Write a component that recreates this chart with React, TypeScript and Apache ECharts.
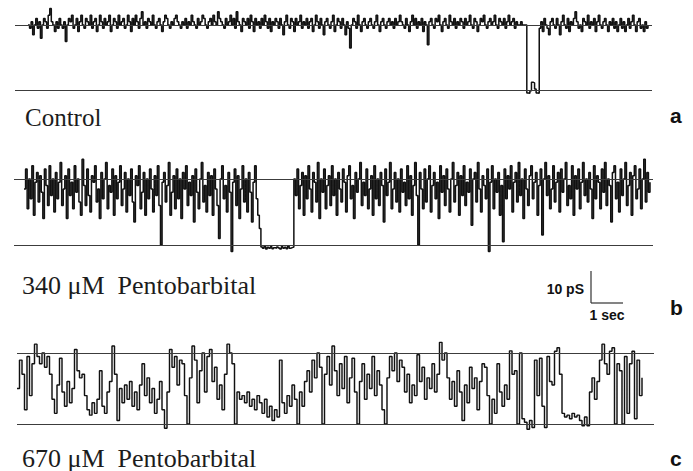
import React, { useEffect, useRef } from "react";
import * as echarts from "echarts";

// Current traces (pS); 0 = closed level, 20 = open level
const controlTrace = [
  20,19,21,17,20,22,19,21,16,20,22,21,19,23,25,21,20,18,21,19,
  22,20,19,21,15,20,22,21,23,19,20,22,18,21,23,20,19,22,21,20,
  23,19,21,22,18,20,23,21,19,22,20,21,23,18,20,22,21,19,23,20,
  21,22,19,20,23,21,18,22,20,23,21,19,22,24,20,21,19,22,21,20,
  23,20,19,21,22,20,18,21,23,22,20,19,21,20,22,23,21,20,19,21,
  20,22,19,21,20,23,21,20,19,22,20,21,23,22,20,19,21,22,20,23,
  21,20,24,22,21,20,19,22,20,21,23,20,22,19,24,21,20,18,22,21,
  20,22,19,23,21,18,22,20,21,19,22,20,23,21,19,22,18,21,20,22,
  21,19,22,20,17,21,23,20,19,22,21,18,22,20,21,23,19,21,20,22,
  19,21,22,18,20,23,21,19,22,20,17,21,22,20,19,21,23,18,20,22,
  21,19,22,20,17,21,19,13,20,22,21,19,23,20,18,21,22,20,19,21,
  22,20,19,21,23,20,18,21,22,20,19,21,22,20,21,19,22,20,21,23,
  21,20,19,22,20,18,21,23,20,22,19,21,20,22,18,21,20,14,21,22,
  20,19,22,21,23,20,18,21,22,20,19,23,21,20,22,19,21,20,22,21,
  19,22,20,21,23,20,19,22,21,18,20,22,21,23,20,19,21,22,20,21,
  23,20,19,22,21,20,22,19,21,23,20,21,22,19,21,20,20,21,20,20,
  20,-0.7,-0.8,0,2.6,2.4,0.5,-0.7,-0.8,19,21,18,22,20,19,17,21,22,20,19,
  22,20,17,21,23,20,19,22,18,21,20,22,24,21,19,20,18,22,21,20,
  23,19,21,20,22,18,21,23,20,19,21,22,20,18,21,20,22,19,21,18,
  20,22,19,21,18,20,22,19,21,23,20,18,21,22,19,20,18,21,19,20,
];

const pb340Trace = [
  17,23,11,20,14,24,9,19,22,13,21,16,8,23,18,12,24,15,20,10,
  22,14,19,25,12,17,21,8,23,15,19,11,24,16,20,13,9,26,18,12,
  23,15,10,21,19,24,13,17,8,22,14,20,25,11,18,16,23,9,21,14,
  19,24,12,17,22,10,20,15,23,13,7,21,18,24,11,16,22,9,20,14,
  23,17,10,21,15,24,12,0,19,22,13,18,25,9,16,21,11,23,14,20,
  8,22,17,24,12,19,15,21,7,23,16,11,20,25,13,18,10,22,15,21,
  9,23,17,12,2,20,24,14,18,10,22,16,-2,19,23,12,21,8,17,24,
  13,20,10,22,16,7,19,24,14,9,5,
  -0.6,-1,-0.4,-1.2,-0.7,-1,-0.5,-1.1,-0.8,-1,
  -0.6,-0.9,-1.2,-0.5,-1,-0.7,-1.1,-0.4,-1,-0.8,-0.6,
  20,15,23,11,18,22,9,21,
  14,24,17,10,22,19,13,25,8,20,16,23,11,18,21,12,24,15,20,9,
  22,17,13,23,19,10,21,24,14,18,8,22,16,20,25,12,19,15,23,11,
  17,21,9,24,14,20,12,22,18,7,23,15,19,25,11,17,22,13,20,10,
  23,16,19,12,24,14,21,9,18,25,15,0,22,17,11,23,13,20,24,10,
  18,22,14,19,8,24,16,21,12,23,17,10,20,25,13,18,22,9,21,15,
  24,12,19,16,23,6,20,22,13,25,17,10,21,18,14,23,-2,19,24,11,
  20,16,22,9,18,1,23,14,21,17,24,10,19,22,13,25,15,20,8,23,
  17,12,21,24,14,19,22,9,18,23,3,20,25,15,21,11,17,24,13,19,
  22,10,23,16,20,25,12,18,14,24,9,21,17,23,11,19,25,15,20,13,
  22,17,8,24,14,21,19,11,23,16,25,12,20,18,7,22,24,14,19,10,
  23,15,20,25,12,18,22,9,21,24,14,17,23,11,20,26,13,22,16,19,
];

const pb670Trace = [
  10,18,14,4,19,8,17,22.5,19,17,
  20,16,19,14,7,3,11,18.5,9,5,
  12,6,10,21,15,13,14,8,4,2.5,
  6,3,7,15,5,3,9,12,22,14,
  1,10,6,11,7,12,5,9,4,11,
  17,8,13,6,10,3,7,12,4,-1.2,
  9,21,16,19,11,18,17,8,0,13,
  22,18,6,15,20,9,19,21,12,16,
  7,11,4,14,22.5,20,17,0,9,7,
  8,6,9,5,7,4,8,6,3,7,
  2,5,1,4,2,18,6,3,8,5,
  11,7,0,9,5,12,15,9,18,13,
  20,16,0,14,19,11,22,15,8,17,
  10,19,6,13,18.5,9,0,12,17,7,
  14,10,19,8,15,11,4,0,13,19,
  15,20,12,18,16,9,14,6,11,8,
  19.5,12,16,7,13,10,17,9,14,23,
  18,20,13,7,12,5,15,9,1,11,
  6,16,10,13,4,12,17,16,8,0,
  7,3,17,9,5,11,7,20.6,14,15,
  0,20,1.5,0.5,-1.5,1,-1,18,8,18.5,
  5,-1,19,12,11,20.5,21.5,14,3,2,
  2.5,1.5,3,2,2.5,1,-0.5,2,-0.5,9,
  13,7,12,18,22.5,17,14,20.5,21.5,0,
  17,15,0,19,3,17,20.5,1.5,18,8,13,
];

const referenceLevels = [0, 20];
const panelTitles = ["Control", "340 μM  Pentobarbital", "670 μM  Pentobarbital"];
const panelLetters = ["a", "b", "c"];
const ampScaleLabel = "10 pS";
const timeScaleLabel = "1 sec";

const SERIF = '"Liberation Serif", "Times New Roman", serif';
const SANS = '"Liberation Sans", Arial, sans-serif';

export default function App() {
  const ref = useRef<HTMLDivElement>(null);

  useEffect(() => {
    if (!ref.current) return;
    const chart = echarts.init(ref.current, null, { renderer: "svg" });

    const panels = [
      { data: controlTrace, grid: { left: 15, top: 5.3, width: 637, height: 98.55 }, x: [-8.366, 401.57], y: [-4, 26], lw: 1.5, titleY: 117, titleSize: 25, letterY: 126 },
      { data: pb340Trace, grid: { left: 14, top: 152.6, width: 639, height: 105.6 }, x: [-6.374, 400.91], y: [-4, 28], lw: 1.5, titleY: 285, titleSize: 26, letterY: 318 },
      { data: pb670Trace, grid: { left: 17, top: 331.7, width: 637, height: 106.5 }, x: [0, 254.8], y: [-4, 26], lw: 1.45, titleY: 458, titleSize: 26, letterY: 469 },
    ];

    const option: any = {
      animation: false,
      grid: panels.map((p) => ({ ...p.grid, outerBoundsMode: "none", containLabel: false })),
      xAxis: panels.map((p, k) => ({
        type: "value", gridIndex: k, min: p.x[0], max: p.x[1], show: false,
      })),
      yAxis: panels.map((p, k) => ({
        type: "value", gridIndex: k, min: p.y[0], max: p.y[1], show: false,
      })),
      series: panels.map((p, k) => ({
        type: "line",
        xAxisIndex: k,
        yAxisIndex: k,
        step: "end",
        symbol: "none",
        showSymbol: false,
        silent: true,
        data: p.data.map((v, i) => [i, v]),
        lineStyle: { color: "#111", width: p.lw },
        markLine: {
          silent: true,
          symbol: "none",
          label: { show: false },
          lineStyle: { color: "#3c3c3c", width: 1.2, type: "solid" },
          data: referenceLevels.map((l) => ({ yAxis: l })),
        },
      })),
      graphic: [
        ...panels.map((p, k) => ({
          type: "text",
          x: k === 0 ? 25 : 22,
          y: p.titleY,
          style: { text: panelTitles[k], font: `${p.titleSize}px ${SERIF}`, fill: "#1c1c1c", verticalAlign: "middle", align: "left" },
        })),
        ...panels.map((p, k) => ({
          type: "text",
          x: 670,
          y: p.letterY,
          style: { text: panelLetters[k], font: `bold 21px ${SANS}`, fill: "#111", verticalAlign: "bottom", align: "left" },
        })),
        { type: "line", shape: { x1: 591, y1: 271, x2: 591, y2: 303 }, style: { stroke: "#333", lineWidth: 1.2 } },
        { type: "line", shape: { x1: 591, y1: 303, x2: 623, y2: 303 }, style: { stroke: "#333", lineWidth: 1.2 } },
        { type: "text", x: 584, y: 289, style: { text: ampScaleLabel, font: `bold 14px ${SANS}`, fill: "#111", align: "right", verticalAlign: "middle" } },
        { type: "text", x: 607, y: 315, style: { text: timeScaleLabel, font: `bold 14px ${SANS}`, fill: "#111", align: "center", verticalAlign: "middle" } },
      ],
    };

    chart.setOption(option);
    return () => chart.dispose();
  }, []);

  return (
    <div
      ref={ref}
      style={{ position: "fixed", left: 0, top: 0, width: 693, height: 471, background: "#fff" }}
    />
  );
}
